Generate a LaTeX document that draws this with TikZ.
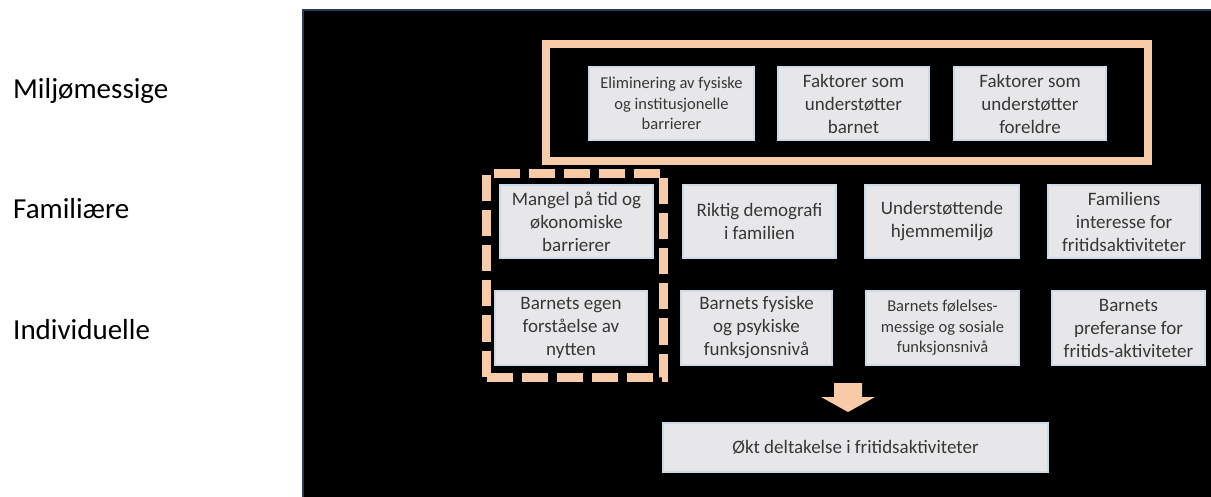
\documentclass[tikz,border=0pt]{standalone}
\usepackage{fontspec}
\setmainfont{Carlito}
\definecolor{peach}{RGB}{248,203,168}
\definecolor{boxfill}{RGB}{231,231,233}
\definecolor{boxline}{RGB}{205,218,232}
\definecolor{boxtext}{RGB}{55,55,55}
\definecolor{panelline}{RGB}{40,60,85}
\begin{document}
\begin{tikzpicture}[x=1pt,y=-1pt,
  gbox/.style={fill=boxfill, draw=boxline, line width=1.5pt, inner sep=0pt,
    align=center, text=boxtext, font=\fontsize{19}{23}\selectfont},
  smalltext/.style={font=\fontsize{16.5}{20.5}\selectfont},
  frameenv/.style={draw=peach, line width=8pt, inner sep=0pt},
  framedash/.style={draw=peach, line width=9pt, inner sep=0pt, dash pattern=on 26pt off 9pt},
  lvl/.style={anchor=base west, inner sep=0pt, font=\fontsize{29}{34}\selectfont}]
\useasboundingbox (0,0) rectangle (1211,497);
\fill[white] (0,0) rectangle (1211,497);
\filldraw[fill=black, draw=panelline, line width=1.5pt] (303,10) rectangle (1212,498);
% level labels
\node[lvl] (lmil) at (13,99) {Miljømessige};
\node[lvl] (lfam) at (13,219) {Familiære};
\node[lvl] (lind) at (13,339) {Individuelle};
% frames
\node[frameenv, minimum width=602pt, minimum height=117pt] (env) at (847,102.5) {};
\node[framedash, minimum width=177pt, minimum height=204pt] (indiv) at (575,275.5) {};
% top row
\node[gbox, smalltext, minimum width=165pt, minimum height=73pt] (t1) at (671.5,103.5) {Eliminering av fysiske\\og institusjonelle\\barrierer};
\node[gbox, minimum width=151pt, minimum height=73pt] (t2) at (853.5,103.5) {Faktorer som\\understøtter\\barnet};
\node[gbox, minimum width=152pt, minimum height=73pt] (t3) at (1030,103.5) {Faktorer som\\understøtter\\foreldre};
% family row
\node[gbox, minimum width=153pt, minimum height=73pt] (a1) at (576.5,221.5) {Mangel på tid og\\økonomiske\\barrierer};
\node[gbox, minimum width=153pt, minimum height=73pt] (a2) at (759.5,221.5) {Riktig demografi\\i familien};
\node[gbox, minimum width=154pt, minimum height=73pt] (a3) at (942,221.5) {Understøttende\\hjemmemiljø};
\node[gbox, minimum width=152pt, minimum height=73pt] (a4) at (1124,221.5) {Familiens\\interesse for\\fritidsaktiviteter};
% individual row
\node[gbox, minimum width=152pt, minimum height=74pt] (b1) at (571,328) {Barnets egen\\forståelse av\\nytten};
\node[gbox, minimum width=151pt, minimum height=74pt] (b2) at (756.5,328) {Barnets fysiske\\og psykiske\\funksjonsnivå};
\node[gbox, smalltext, minimum width=153pt, minimum height=74pt] (b3) at (942.5,328) {Barnets følelses-\\messige og sosiale\\funksjonsnivå};
\node[gbox, minimum width=153pt, minimum height=74pt] (b4) at (1128.5,328) {Barnets\\preferanse for\\fritids-aktiviteter};
% outcome
\node[gbox, minimum width=385pt, minimum height=49pt] (out) at (855.5,447.5) {Økt deltakelse i fritidsaktiviteter};
% block arrow
\fill[peach] (834,383) -- (862,383) -- (862,397) -- (875,397) -- (848,412) -- (821,397) -- (834,397) -- cycle;
\end{tikzpicture}
\end{document}
